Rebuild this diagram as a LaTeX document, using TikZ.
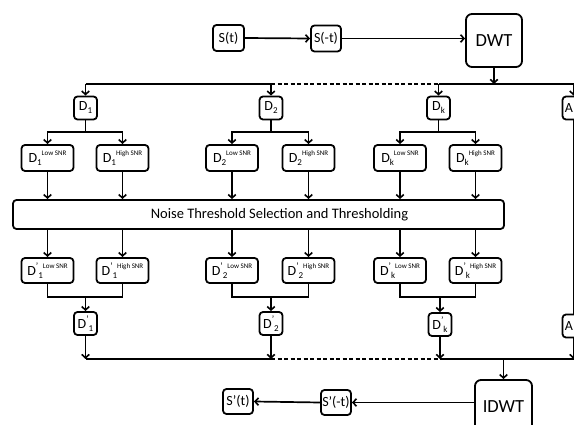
\documentclass[tikz,border=0pt]{standalone}
\usepackage{fontspec}
\setmainfont{Carlito}
\usetikzlibrary{arrows.meta}
\newcommand\lsub[1]{\raisebox{-0.45ex}{\fontsize{9}{9}\selectfont #1}}
\newcommand\lsup[1]{\raisebox{1.1ex}{\fontsize{7}{7}\selectfont #1}}
\newcommand\lpr{\raisebox{1.0ex}{\fontsize{9.5}{9.5}\selectfont ’}}
\tikzset{
  arr/.style={-{Straight Barb[length=3.5pt,width=7.5pt,line width=1.6pt]}},
  ln/.style={line width=1.7pt},
  box/.style={draw, line width=1.8pt, rounded corners=3.5pt, inner sep=0pt, font=\fontsize{14}{14}\selectfont},
  dbox/.style={box, minimum width=23pt, minimum height=23pt},
  sbox/.style={box, minimum width=52pt, minimum height=26pt},
  bigbox/.style={box, rounded corners=6pt, minimum width=56pt, minimum height=53pt, font=\fontsize{18.5}{18.5}\selectfont},
  tbox/.style={box, minimum width=30pt, minimum height=26pt},
  lab/.style={inner sep=0pt, font=\fontsize{14}{14}\selectfont},
}
\begin{document}
\begin{tikzpicture}[x=1pt,y=-1pt]
\useasboundingbox (0,0) rectangle (574,425);
\clip (0,0) rectangle (574,425);
% top row
\node[tbox, minimum width=31pt] (St) at (228.5,38) {S(t)};
\node[tbox] (Smt) at (326,38.5) {S(-t)};
\node[bigbox] (DWT) at (494,40.5) {DWT};
% D row
\node[dbox] (D1) at (85.5,108) {D\lsub{1}};
\node[dbox] (D2) at (271,108) {D\lsub{2}};
\node[dbox] (Dk) at (438.5,108) {D\lsub{k}};
\node[dbox, minimum width=22pt] (A) at (573.5,108) {};
\node[lab] (Atxt) at (569,108) {A};
% low/high
\node[sbox] (D1L) at (47.5,158) {D\lsub{1}\lsup{Low SNR}};
\node[sbox] (D1H) at (122.5,158) {D\lsub{1}\lsup{High SNR}};
\node[sbox] (D2L) at (232,158) {D\lsub{2}\lsup{Low SNR}};
\node[sbox] (D2H) at (308.5,158) {D\lsub{2}\lsup{High SNR}};
\node[sbox] (DkL) at (400,158) {D\lsub{k}\lsup{Low SNR}};
\node[sbox] (DkH) at (475.5,158) {D\lsub{k}\lsup{High SNR}};
% threshold
\node[box, minimum width=491pt, minimum height=29pt, font=\fontsize{14.5}{14.5}\selectfont] (TH) at (258.5,214.5) {\hspace{42pt}Noise Threshold Selection and Thresholding};
% thresholded low/high
\node[sbox, minimum height=25pt] (P1L) at (47.5,270.5) {D\lpr\lsub{1}\lsup{Low SNR}};
\node[sbox, minimum height=25pt] (P1H) at (122.5,270.5) {D\lpr\lsub{1}\lsup{High SNR}};
\node[sbox, minimum height=25pt] (P2L) at (232,270.5) {D\lpr\lsub{2}\lsup{Low SNR}};
\node[sbox, minimum height=25pt] (P2H) at (308.5,270.5) {D\lpr\lsub{2}\lsup{High SNR}};
\node[sbox, minimum height=25pt] (PkL) at (400,270.5) {D\lpr\lsub{k}\lsup{Low SNR}};
\node[sbox, minimum height=25pt] (PkH) at (475.5,270.5) {D\lpr\lsub{k}\lsup{High SNR}};
% D' row
\node[dbox] (P1) at (85.5,323.5) {D\lpr\lsub{1}};
\node[dbox] (P2) at (271,323.5) {D\lpr\lsub{2}};
\node[dbox] (Pk) at (440,324.5) {D\lpr\lsub{k}};
\node[dbox, minimum width=22pt] (PA) at (573.5,326) {};
\node[lab] (PAtxt) at (569,326) {A};
% bottom
\node[bigbox, minimum width=57pt] (IDWT) at (503.5,406.5) {IDWT};
\node[tbox, minimum height=25pt] (Spmt) at (336,402.5) {S’(-t)};
\node[tbox, minimum height=25pt] (Spt) at (238,401.5) {S’(t)};
% coordinates
\coordinate (busT) at (0,84);
\coordinate (br) at (0,132);
\coordinate (mg) at (0,297);
\coordinate (busB) at (0,359);
\coordinate (edgeT) at (580,84);
\coordinate (edgeB) at (580,359);
% top connectors
\draw[ln,arr] (St.east) -- (Smt.west);
\draw[ln,arr] (Smt.east) -- (DWT.west |- Smt.east);
\draw[ln,arr] (DWT.south) -- (DWT |- busT);
\draw[ln] (D1 |- busT) -- (D2 |- busT);
\draw[ln,dash pattern=on 4pt off 2.5pt] (D2 |- busT) -- (Dk |- busT);
\draw[ln] (Dk |- busT) -- (edgeT);
\foreach \n in {D1,D2,Dk,A} \draw[ln,arr] (\n |- busT) -- (\n.north);
% branches
\foreach \p/\l/\h in {D1/D1L/D1H, D2/D2L/D2H, Dk/DkL/DkH} {
  \draw[ln] (\p.south) -- (\p |- br);
  \draw[ln,arr] (\p |- br) -| (\l.north);
  \draw[ln,arr] (\p |- br) -| (\h.north);
}
\foreach \n/\m in {D1L/P1L, D1H/P1H, D2L/P2L, D2H/P2H, DkL/PkL, DkH/PkH} {
  \draw[ln,arr] (\n.south) -- (\n |- TH.north);
  \draw[ln,arr] (\n |- TH.south) -- (\m.north);
}
% merges
\foreach \p/\l/\h in {P1/P1L/P1H, P2/P2L/P2H, Pk/PkL/PkH} {
  \draw[ln] (\l.south) |- (\h |- mg) -- (\h.south);
  \draw[ln,arr] (\p |- mg) -- (\p.north);
}
\draw[ln] (A.south) -- (PA.north);
% bottom bus
\foreach \n in {P1,P2,Pk,PA} \draw[ln,arr] (\n.south) -- (\n |- busB);
\draw[ln] (P1 |- busB) -- (P2 |- busB);
\draw[ln,dash pattern=on 4pt off 2.5pt] (P2 |- busB) -- (Pk |- busB);
\draw[ln] (Pk |- busB) -- (edgeB);
\draw[ln,arr] (IDWT |- busB) -- (IDWT.north);
\draw[ln,arr] (IDWT.west |- Spmt.east) -- (Spmt.east);
\draw[ln,arr] (Spmt.west) -- (Spt.east);
\end{tikzpicture}
\end{document}
